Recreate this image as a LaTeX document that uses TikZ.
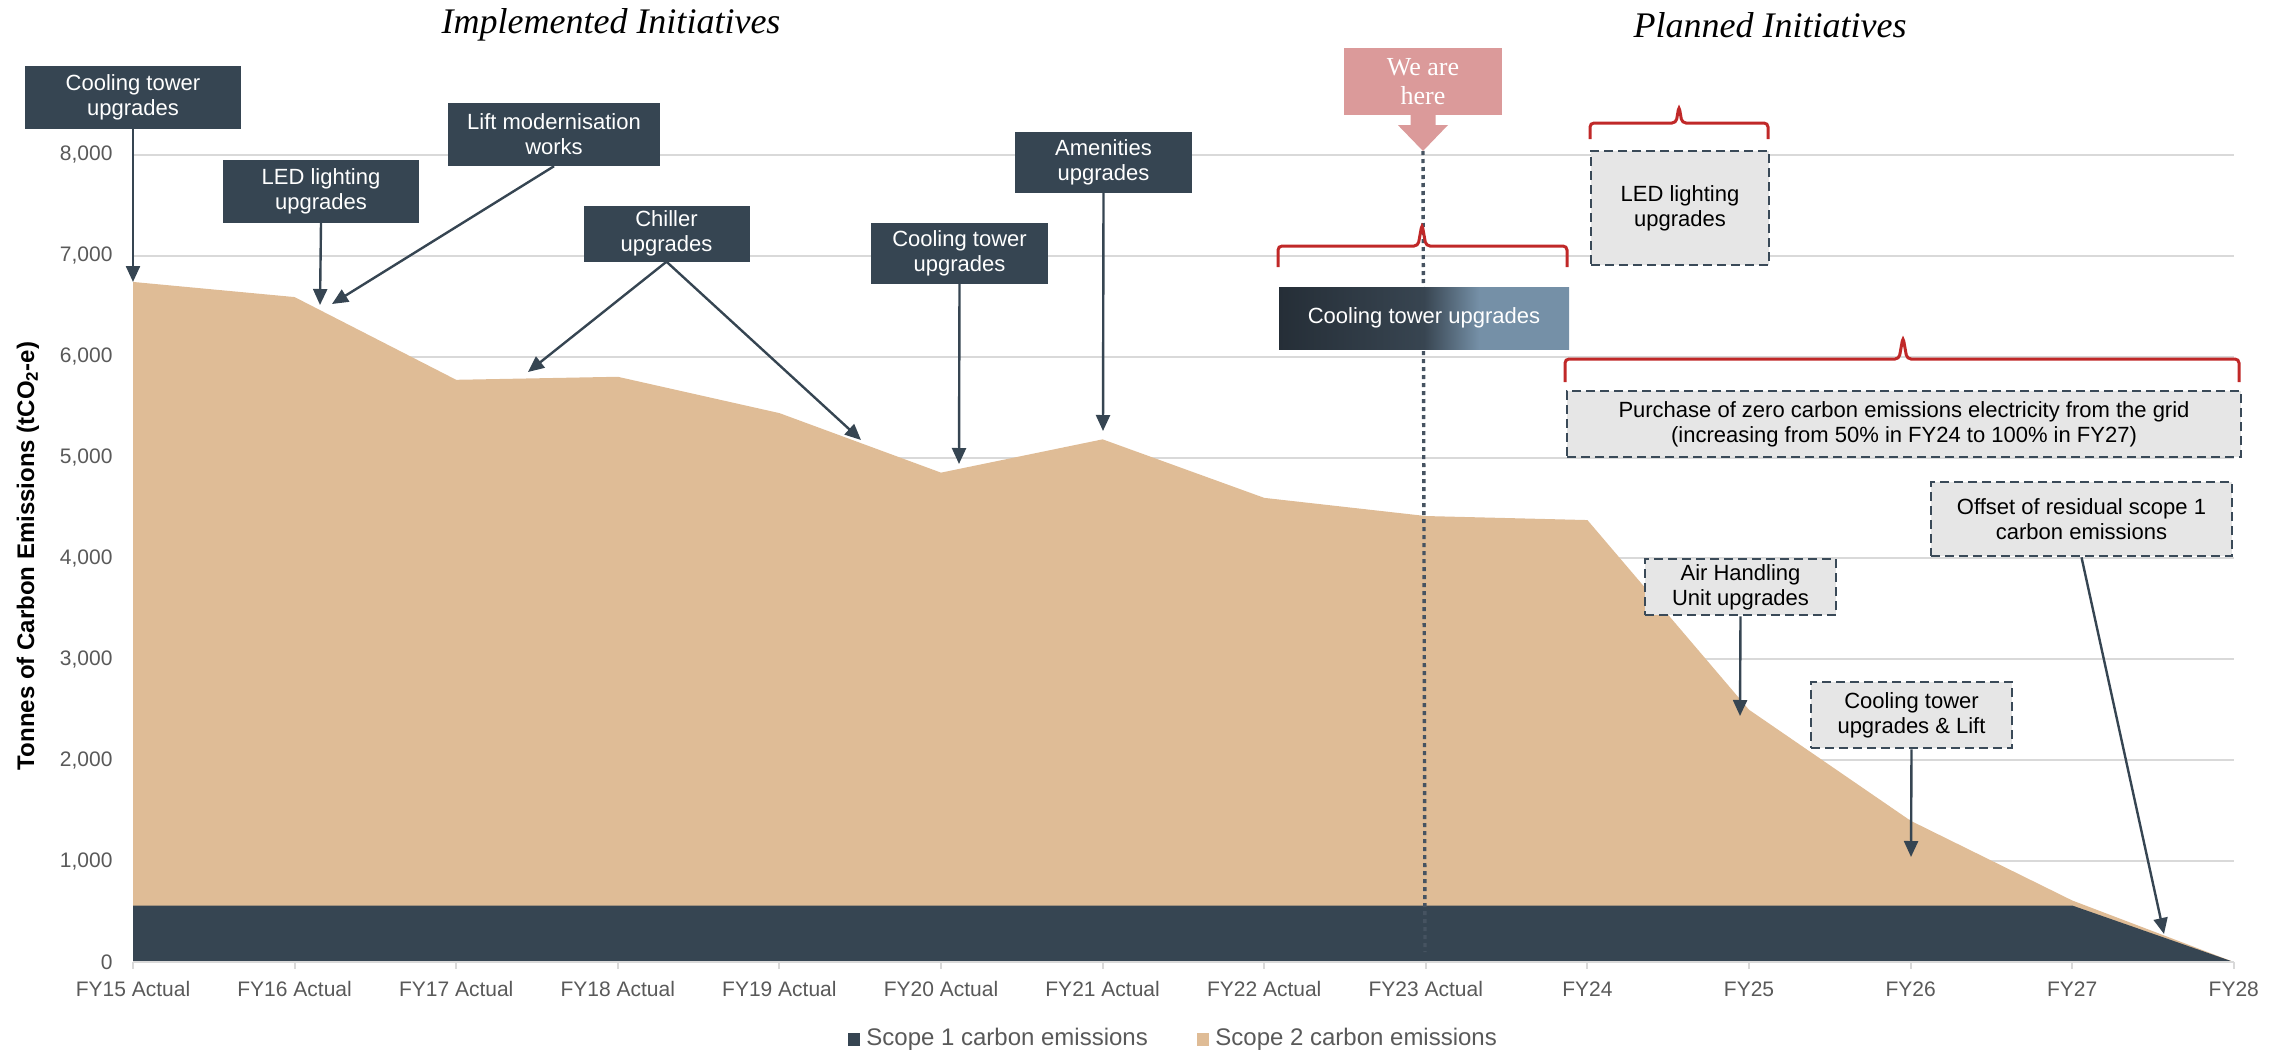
\documentclass[tikz,border=0pt]{standalone}
\usepackage{fontspec}
\setmainfont{Liberation Sans}
\newfontfamily\georgiafont{Liberation Serif}
\usepackage{tikz}
\usetikzlibrary{arrows.meta,positioning}

\definecolor{slate}{RGB}{54,69,82}
\definecolor{dashslate}{RGB}{58,74,88}
\definecolor{scopetan}{RGB}{223,188,150}
\definecolor{gridgrey}{RGB}{217,217,217}
\definecolor{labelgrey}{RGB}{89,89,89}
\definecolor{herepink}{RGB}{219,154,154}
\definecolor{bracered}{RGB}{192,40,40}
\definecolor{planfill}{RGB}{230,230,230}
\definecolor{nowgrey}{RGB}{70,83,97}
\definecolor{fadeleft}{RGB}{37,46,55}
\definecolor{fademid}{RGB}{56,69,81}
\definecolor{faderight}{RGB}{117,144,167}
\pgfdeclarehorizontalshading{towerfade}{100bp}{color(0bp)=(fadeleft); color(25bp)=(fadeleft); color(50bp)=(fademid); color(59.5bp)=(faderight); color(100bp)=(faderight)}

\begin{document}
\begin{tikzpicture}[x=1pt,y=-1pt,>={Triangle[length=16pt,width=14pt]},
	darkbox/.style = {fill=slate,text=white,align=center,inner sep=0pt,font=\fontsize{22}{25}\selectfont},
	planbox/.style = {draw=dashslate,fill=planfill,line width=2.6pt,dash pattern=on 9pt off 5pt,text=black,align=center,inner sep=0pt,font=\fontsize{22}{25}\selectfont},
	herebox/.style = {fill=herepink,text=white,align=center,inner sep=0pt,font=\georgiafont\fontsize{26}{29}\selectfont},
	callarrow/.style = {draw=slate,line width=2.4pt,->},
	redbrace/.style = {draw=bracered,line width=3pt,rounded corners=4pt},
	gridline/.style = {draw=gridgrey,line width=2pt},
	ticklabel/.style = {text=labelgrey,font=\fontsize{21}{21}\selectfont},
	legendkey/.style = {minimum width=12pt,minimum height=13pt,inner sep=0pt},
	legendtext/.style = {text=labelgrey,inner sep=0pt,font=\fontsize{24}{24}\selectfont},
	title/.style = {font=\georgiafont\itshape\fontsize{36}{36}\selectfont}
	]
	\useasboundingbox (0,0) rectangle (2289,1052);
	%CHART (years on x, thousands of tCO2-e on y)
	\begin{scope}[shift={(133,962)},x=161.6pt,y=100.9pt]
		\foreach \y in {1,...,8} \draw[gridline] (0,\y) -- (13,\y);
		%Scope 2, stacked on scope 1
		\fill[scopetan] (0,0) -- (0,6.74) -- (1,6.59) -- (2,5.77) -- (3,5.80) -- (4,5.44) -- (5,4.85) -- (6,5.18) -- (7,4.60) -- (8,4.42) -- (9,4.38) -- (10,2.50) -- (11,1.40) -- (12,0.61) -- (13,0) -- cycle;
		%Scope 1
		\fill[slate] (0,0) -- (0,0.56) -- (12,0.56) -- (13,0) -- cycle;
		\draw[gridline] (0,0) -- (13,0);
		\foreach \i in {0,...,13} \draw[gridline] (\i,0) -- ++(0,-0.07);
		%Valori sulle y
		\node[ticklabel,anchor=east] at ([xshift=-17pt]0,0) {0};
		\foreach \y in {1,...,8} \node[ticklabel,anchor=east] at ([xshift=-17pt]0,\y) {\y,000};
		%Valori sulle x
		\foreach \i/\lab in {0/FY15 Actual,1/FY16 Actual,2/FY17 Actual,3/FY18 Actual,4/FY19 Actual,5/FY20 Actual,6/FY21 Actual,7/FY22 Actual,8/FY23 Actual,9/FY24,10/FY25,11/FY26,12/FY27,13/FY28}
			\node[ticklabel] at ([yshift=-27pt]\i,0) {\lab};
	\end{scope}
	\node[rotate=90,font=\bfseries\fontsize{24}{24}\selectfont] (ylabel) at (28,556) {Tonnes of Carbon Emissions (tCO\textsubscript{2}-e)};
	%TITOLI
	\node[title] (implemented) at (611,25) {Implemented Initiatives};
	\node[title] (planned) at (1770,25) {Planned Initiatives};
	%WE ARE HERE
	\node[herebox,minimum width=158pt,minimum height=67pt] (here) at (1423,81.5) {We are\\here};
	\coordinate (herepin) at (1423,151);
	\fill[herepink] ([xshift=-12.5pt,yshift=1pt]here.south) -- ++(0,11) -- ++(-12.5,0) -- (herepin) -- ++(25,-26) -- ++(-12.5,0) -- ([xshift=12.5pt,yshift=1pt]here.south) -- cycle;
	\draw[nowgrey,line width=3.4pt,dash pattern=on 4pt off 4pt] (herepin) -- (1425,952);
	%Iniziative realizzate
	\node[darkbox,minimum width=216pt,minimum height=63pt] (cool15) at (133,97.5) {Cooling tower\\upgrades};
	\node[darkbox,minimum width=196pt,minimum height=63pt] (led16) at (321,191.5) {LED lighting\\upgrades};
	\node[darkbox,minimum width=212pt,minimum height=63pt] (lift) at (554,134.5) {Lift modernisation\\works};
	\node[darkbox,minimum width=166pt,minimum height=56pt] (chiller) at (666.5,233.5) {Chiller\\upgrades};
	\node[darkbox,minimum width=177pt,minimum height=61pt] (cool20) at (959.5,253.5) {Cooling tower\\upgrades};
	\node[darkbox,minimum width=177pt,minimum height=61pt] (amenities) at (1103.5,162.5) {Amenities\\upgrades};
	\coordinate (tip15) at (133,282);
	\coordinate (tip16) at (320,305);
	\coordinate (tiplift) at (332,304);
	\coordinate (tipch1) at (528,372);
	\coordinate (tipch2) at (861,440);
	\coordinate (tip20) at (959,464);
	\coordinate (tip21) at (1103,431);
	\draw[callarrow] (cool15.south) -- (tip15);
	\draw[callarrow] (led16.south) -- (tip16);
	\draw[callarrow] (lift.south) -- (tiplift);
	\draw[callarrow] (chiller.south) -- (tipch1);
	\draw[callarrow] (chiller.south) -- (tipch2);
	\draw[callarrow] (cool20.south) -- (tip20);
	\draw[callarrow] (amenities.south) -- (tip21);
	%Iniziative pianificate
	\node[minimum width=290pt,minimum height=62pt,shading=towerfade,text=white,font=\fontsize{22}{25}\selectfont] (coolplan) at (1424,318) {Cooling tower upgrades};
	\node[planbox,minimum width=178pt,minimum height=114pt] (ledplan) at (1680,208) {LED lighting\\upgrades};
	\node[planbox,minimum width=674pt,minimum height=66pt] (purchase) at (1904,424) {Purchase of zero carbon emissions electricity from the grid\\(increasing from 50\% in FY24 to 100\% in FY27)};
	\node[planbox,minimum width=301pt,minimum height=74pt] (offset) at (2081.5,519) {Offset of residual scope 1\\carbon emissions};
	\node[planbox,minimum width=191pt,minimum height=56pt] (ahu) at (1740.5,587) {Air Handling\\Unit upgrades};
	\node[planbox,minimum width=201pt,minimum height=66pt] (ctlift) at (1911.5,715) {Cooling tower\\upgrades \& Lift};
	\coordinate (tipahu) at (1740,716);
	\coordinate (tipct) at (1911,857);
	\coordinate (tipoff) at (2164,934);
	\draw[callarrow] (ahu.south) -- (tipahu);
	\draw[callarrow] (ctlift.south) -- (tipct);
	\draw[callarrow] (offset.south) -- (tipoff);
	%Parentesi
	\draw[redbrace] (1278,267) -- (1278,246) -- (1418,246) -- (1422,224) -- (1426,246) -- (1567,246) -- (1567,267);
	\draw[redbrace] (1590,139) -- (1590,123) -- (1676,123) -- (1679,106) -- (1682,123) -- (1768,123) -- (1768,139);
	\draw[redbrace] (1565,382) -- (1565,359) -- (1899,359) -- (1903,337) -- (1907,359) -- (2239,359) -- (2239,382);
	%Legenda
	\node[legendkey,fill=slate] (key1) at (854,1039.5) {};
	\node[legendtext,right=6pt of key1] (leg1) {Scope 1 carbon emissions};
	\node[legendkey,fill=scopetan] (key2) at (1203,1039.5) {};
	\node[legendtext,right=6pt of key2] (leg2) {Scope 2 carbon emissions};
\end{tikzpicture}
\end{document}
